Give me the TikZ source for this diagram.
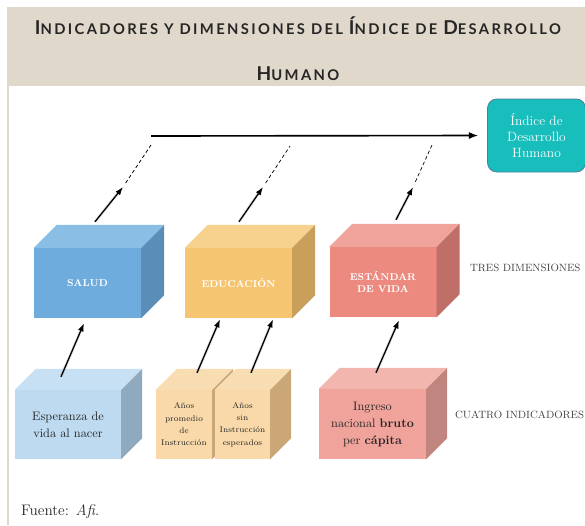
\documentclass[tikz,border=0pt]{standalone}
\usepackage{fontspec}
\newfontfamily\titlefont[LetterSpace=16]{Lato}
\usetikzlibrary{arrows.meta}
\definecolor{band}{HTML}{E0D9CB}
\definecolor{hdifill}{HTML}{17BEBB}
\definecolor{hdiline}{HTML}{4E7D9B}
\definecolor{saludF}{HTML}{6EACDD}
\definecolor{saludT}{HTML}{8BBEE4}
\definecolor{saludS}{HTML}{5A8DB7}
\definecolor{educF}{HTML}{F5C571}
\definecolor{educT}{HTML}{F7D28E}
\definecolor{educS}{HTML}{C9A05B}
\definecolor{vidaF}{HTML}{EC8A7F}
\definecolor{vidaT}{HTML}{EFA39A}
\definecolor{vidaS}{HTML}{BF6F67}
\definecolor{esperF}{HTML}{BDDAF0}
\definecolor{esperT}{HTML}{C7E0F3}
\definecolor{esperS}{HTML}{8FA9BE}
\definecolor{anosF}{HTML}{F9D9A9}
\definecolor{anosT}{HTML}{F8DDB3}
\definecolor{anosS}{HTML}{CBA677}
\definecolor{ingF}{HTML}{F0A39B}
\definecolor{ingT}{HTML}{F2B6AF}
\definecolor{ingS}{HTML}{C1857F}
\tikzset{
    cubefront/.style={inner sep=0pt,minimum width=107*\px,minimum height=70*\px,align=center},
    dimlabel/.style={text=white,font=\bfseries\fontsize{8.5}{11}\selectfont},
    indlabel/.style={text=black!85,font=\fontsize{10.5}{14.5}\selectfont},
    smalllabel/.style={text=black!85,font=\fontsize{7}{10.5}\selectfont},
    riser/.style={-{Latex[length=7pt,width=5pt]},line width=1.1pt,preaction={draw=black!30,opacity=0.35,line width=2.6pt}},
    guide/.style={dash pattern=on 3pt off 2.2pt,line width=0.6pt},
    sidetext/.style={anchor=west,text=black!75,font=\fontsize{9}{10}\selectfont\addfontfeatures{LetterSpace=2}},
    hdi/.style={rounded corners=8pt,fill=hdifill,draw=hdiline,line width=0.7pt,minimum width=98*\px,minimum height=73*\px,text=white,align=center,font=\fontsize{11.5}{14}\selectfont}
}
\def\px{0.03cm}
% top and right faces of a box drawn on a front node
\newcommand\cubefaces[4]{%
  \fill[#3] (#1.north west) -- (#1.north east) -- ([shift={(#2,-#2)}]#1.north east) -- ([shift={(#2,-#2)}]#1.north west) -- cycle;
  \fill[#4] (#1.north east) -- (#1.south east) -- ([shift={(#2,-#2)}]#1.south east) -- ([shift={(#2,-#2)}]#1.north east) -- cycle;
}
\newcommand\tcap[1]{{\fontsize{16.3}{39.5}\selectfont #1}}

\begin{document}
\begin{tikzpicture}[x=0.03cm,y=-0.03cm]
  \useasboundingbox (0,0) rectangle (585,525);

  % Title band
  \fill[band] (7,7) rectangle (585,86);
  \draw[band,line width=1.5pt] (8,86) -- (8,525);
  \node[font=\titlefont\bfseries\fontsize{12.6}{39.5}\selectfont,text=black!85,align=center] (title) at (298,49)
    {\tcap{I}NDICADORES Y DIMENSIONES DEL \tcap{Í}NDICE DE \tcap{D}ESARROLLO\\\tcap{H}UMANO};

  % Dimensions
  \node[cubefront,fill=saludF,dimlabel] (salud) at (87.5,283) {SALUD};
  \cubefaces{salud}{23}{saludT}{saludS}
  \node[cubefront,fill=educF,dimlabel] (educ) at (238.5,283) {EDUCACIÓN};
  \cubefaces{educ}{23}{educT}{educS}
  \node[cubefront,fill=vidaF,dimlabel] (vida) at (383,282) {ESTÁNDAR\\DE VIDA};
  \cubefaces{vida}{23}{vidaT}{vidaS}
  \node[sidetext] (tres) at (466,268) {TRES DIMENSIONES};

  % Indicators
  \node[cubefront,fill=esperF,indlabel,minimum width=106*\px,minimum height=69*\px] (esper) at (68,424.5) {Esperanza de\\vida al nacer};
  \cubefaces{esper}{21}{esperT}{esperS}
  \node[cubefront,fill=anosF,smalllabel,minimum width=56*\px,minimum height=69*\px] (prom) at (184,424.5) {Años\\promedio\\de\\Instrucción};
  \cubefaces{prom}{21}{anosT}{anosS}
  \node[cubefront,fill=anosF,smalllabel,minimum width=55*\px,minimum height=69*\px] (sin) at (242.5,424.5) {Años\\sin\\Instrucción\\esperados};
  \cubefaces{sin}{21}{anosT}{anosS}
  \node[cubefront,fill=ingF,indlabel,minimum height=70*\px] (ingreso) at (372.5,424) {Ingreso\\nacional \textbf{bruto}\\per \textbf{cápita}};
  \cubefaces{ingreso}{21}{ingT}{ingS}
  \node[sidetext] (cuatro) at (451,415) {CUATRO INDICADORES};

  % Index
  \node[hdi] (hdi) at (536.5,135.5) {Índice de\\Desarrollo\\Humano};
  \coordinate (main) at (151,136);
  \draw[-{Latex[length=8pt,width=6pt]},line width=1.4pt,shorten >=7.5pt] (main) -- (hdi.west);

  % Indicators to dimensions
  \draw[riser] ([shift={(-7,-13)}]esper.north) -- ([shift={(-3.5,5)}]salud.south);
  \draw[riser] ([shift={(13,-17)}]prom.north) -- ([shift={(-18.5,1)}]educ.south);
  \draw[riser] ([shift={(8.5,-17)}]sin.north) -- ([shift={(34.5,1)}]educ.south);
  \draw[riser] ([shift={(3.5,-16)}]ingreso.north) -- ([shift={(16,3)}]vida.south);

  % Dimensions to index
  \coordinate (p1) at (123,187);
  \coordinate (q1) at (151,145);
  \coordinate (p2) at (263,187);
  \coordinate (q2) at (290,146);
  \coordinate (p3) at (413,187);
  \coordinate (q3) at (432,145);
  \draw[riser] ([shift={(7.5,-26)}]salud.north) -- (p1);
  \draw[riser] ([shift={(0.5,-26)}]educ.north) -- (p2);
  \draw[riser] ([shift={(13,-27)}]vida.north) -- (p3);
  \draw[guide,shorten <=4pt] (p1) -- (q1);
  \draw[guide,shorten <=4pt] (p2) -- (q2);
  \draw[guide,shorten <=5pt] (p3) -- (q3);

  \node[anchor=west,font=\fontsize{13}{14}\selectfont,text=black!85] (fuente) at (17,512) {Fuente: \textit{Afi}.};
\end{tikzpicture}
\end{document}
